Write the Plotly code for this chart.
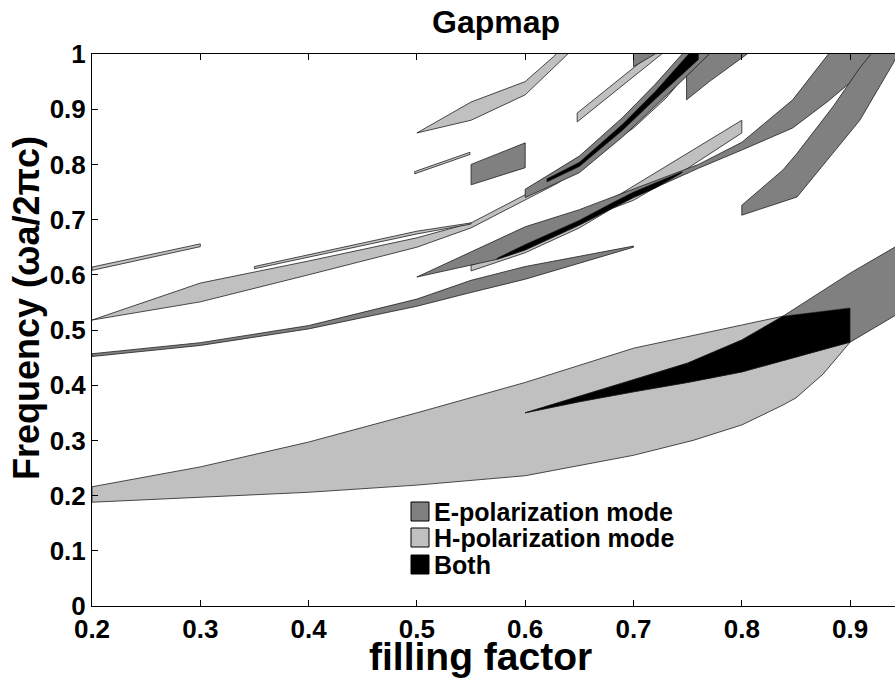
import plotly.graph_objects as go

# ---- gap bands: filling factor vs normalised frequency (omega a / 2 pi c) ----
# each band is given by its filling-factor samples and lower / upper gap edges

# H-polarization gaps
h_low_x = [0.2, 0.3, 0.4, 0.5, 0.6, 0.7, 0.755, 0.8, 0.838, 0.85, 0.875, 0.9]
h_low_lo = [0.188, 0.197, 0.206, 0.219, 0.236, 0.273, 0.30, 0.328, 0.364, 0.377, 0.42, 0.478]
h_low_hi = [0.216, 0.252, 0.297, 0.35, 0.405, 0.467, 0.49, 0.509, 0.525, 0.528, 0.534, 0.54]

h_a_x = [0.2, 0.3, 0.4, 0.5, 0.55, 0.6, 0.63, 0.66, 0.7, 0.73, 0.76]
h_a_lo = [0.518, 0.551, 0.60, 0.65, 0.685, 0.736, 0.766, 0.81, 0.866, 0.92, 0.99]
h_a_hi = [0.518, 0.585, 0.625, 0.667, 0.694, 0.745, 0.775, 0.82, 0.88, 0.94, 1.01]

h_s1_x = [0.2, 0.3]
h_s1_lo = [0.608, 0.651]
h_s1_hi = [0.614, 0.656]

h_s2_x = [0.35, 0.4, 0.5, 0.55]
h_s2_lo = [0.611, 0.632, 0.674, 0.692]
h_s2_hi = [0.615, 0.637, 0.679, 0.694]

h_s4_x = [0.498, 0.549]
h_s4_lo = [0.783, 0.818]
h_s4_hi = [0.787, 0.822]

h_top1_x = [0.5, 0.55, 0.6, 0.626, 0.65]
h_top1_lo = [0.857, 0.88, 0.926, 0.975, 1.02]
h_top1_hi = [0.857, 0.913, 0.95, 0.995, 1.04]

h_top2_x = [0.648, 0.7, 0.74]
h_top2_lo = [0.877, 0.959, 1.022]
h_top2_hi = [0.893, 0.975, 1.038]

h_mid_x = [0.55, 0.6, 0.65, 0.68, 0.7, 0.743, 0.8]
h_mid_lo = [0.607, 0.64, 0.685, 0.72, 0.735, 0.784, 0.857]
h_mid_hi = [0.617, 0.655, 0.70, 0.737, 0.761, 0.812, 0.88]

# E-polarization gaps
e_low_x = [0.6, 0.65, 0.7, 0.75, 0.8, 0.838, 0.866, 0.9, 0.95]
e_low_lo = [0.35, 0.37, 0.388, 0.405, 0.424, 0.445, 0.46, 0.478, 0.536]
e_low_hi = [0.35, 0.38, 0.41, 0.44, 0.482, 0.525, 0.56, 0.603, 0.66]

e_s3_x = [0.2, 0.3, 0.4, 0.5, 0.55, 0.6, 0.7]
e_s3_lo = [0.452, 0.472, 0.502, 0.543, 0.568, 0.592, 0.65]
e_s3_hi = [0.457, 0.477, 0.508, 0.556, 0.59, 0.615, 0.652]

e_mid_x = [0.5, 0.574, 0.6, 0.65, 0.7, 0.76, 0.8, 0.847, 0.88, 0.906, 0.93]
e_mid_lo = [0.596, 0.628, 0.645, 0.69, 0.74, 0.793, 0.826, 0.866, 0.915, 0.958, 1.0]
e_mid_hi = [0.596, 0.663, 0.687, 0.718, 0.755, 0.80, 0.84, 0.917, 1.0, 1.05, 1.09]

e_rect_x = [0.55, 0.6]
e_rect_lo = [0.763, 0.794]
e_rect_hi = [0.80, 0.839]

e_streak_x = [0.6, 0.65, 0.69, 0.72, 0.76, 0.78]
e_streak_lo = [0.74, 0.785, 0.85, 0.905, 0.98, 1.02]
e_streak_hi = [0.755, 0.815, 0.885, 0.945, 1.033, 1.06]

e_tiny_x = [0.7, 0.72]
e_tiny_lo = [0.977, 1.0]
e_tiny_hi = [1.01, 1.03]

e_top_x = [0.749, 0.77, 0.805]
e_top_lo = [0.917, 0.95, 1.0]
e_top_hi = [0.96, 1.0, 1.05]

e_right_x = [0.8, 0.838, 0.851, 0.884, 0.909, 0.94, 0.95]
e_right_lo = [0.708, 0.733, 0.741, 0.82, 0.88, 0.984, 1.02]
e_right_hi = [0.726, 0.79, 0.82, 0.904, 0.975, 1.05, 1.08]

# complete gaps (both polarizations)
both_low_x = [0.6, 0.65, 0.7, 0.75, 0.8, 0.838, 0.866, 0.9]
both_low_lo = [0.35, 0.37, 0.388, 0.405, 0.424, 0.445, 0.46, 0.478]
both_low_hi = [0.35, 0.38, 0.41, 0.44, 0.482, 0.525, 0.532, 0.54]

both_mid_x = [0.574, 0.6, 0.65, 0.68, 0.7, 0.72, 0.745]
both_mid_lo = [0.628, 0.645, 0.69, 0.72, 0.74, 0.757, 0.785]
both_mid_hi = [0.630, 0.655, 0.699, 0.730, 0.750, 0.766, 0.787]

both_streak_x = [0.62, 0.65, 0.69, 0.72, 0.76]
both_streak_lo = [0.768, 0.796, 0.862, 0.918, 0.99]
both_streak_hi = [0.774, 0.804, 0.873, 0.932, 1.02]

x_ticks = [0.2, 0.3, 0.4, 0.5, 0.6, 0.7, 0.8, 0.9]
y_ticks = [0, 0.1, 0.2, 0.3, 0.4, 0.5, 0.6, 0.7, 0.8, 0.9, 1]

legend_labels = ["E-polarization mode", "H-polarization mode", "Both"]

E_COL = "#808080"
H_COL = "#c0c0c0"
B_COL = "#000000"
EDGE = "#202020"
FONT = "Liberation Sans, Arial, sans-serif"

h_bands = [
    (h_low_x, h_low_lo, h_low_hi),
    (h_a_x, h_a_lo, h_a_hi),
    (h_s1_x, h_s1_lo, h_s1_hi),
    (h_s2_x, h_s2_lo, h_s2_hi),
    (h_s4_x, h_s4_lo, h_s4_hi),
    (h_top1_x, h_top1_lo, h_top1_hi),
    (h_top2_x, h_top2_lo, h_top2_hi),
    (h_mid_x, h_mid_lo, h_mid_hi),
]
e_bands = [
    (e_low_x, e_low_lo, e_low_hi),
    (e_s3_x, e_s3_lo, e_s3_hi),
    (e_mid_x, e_mid_lo, e_mid_hi),
    (e_rect_x, e_rect_lo, e_rect_hi),
    (e_streak_x, e_streak_lo, e_streak_hi),
    (e_tiny_x, e_tiny_lo, e_tiny_hi),
    (e_top_x, e_top_lo, e_top_hi),
    (e_right_x, e_right_lo, e_right_hi),
]
both_bands = [
    (both_low_x, both_low_lo, both_low_hi),
    (both_mid_x, both_mid_lo, both_mid_hi),
    (both_streak_x, both_streak_lo, both_streak_hi),
]


def band_trace(x, lo, hi, color, edge_w=0.8):
    """Closed polygon: lower edge left->right, upper edge right->left."""
    px = list(x) + list(x)[::-1] + [x[0]]
    py = list(lo) + list(hi)[::-1] + [lo[0]]
    return go.Scatter(
        x=px, y=py, mode="lines", fill="toself", fillcolor=color,
        line=dict(color=EDGE, width=edge_w), hoverinfo="skip", showlegend=False,
    )


fig = go.Figure()
for b in h_bands:
    fig.add_trace(band_trace(*b, H_COL))
for b in e_bands:
    fig.add_trace(band_trace(*b, E_COL))
for b in both_bands:
    fig.add_trace(band_trace(*b, B_COL, edge_w=0.5))

W, H = 895, 679
L, R, T, B = 92, 0, 54, 73
x_max = 0.2 + (W - L - R) / 1083.0

axis_font = dict(family=FONT, size=26, color="black")

fig.update_layout(
    width=W, height=H,
    margin=dict(l=L, r=R, t=T, b=B, pad=0),
    paper_bgcolor="white", plot_bgcolor="white",
    showlegend=False,
    xaxis=dict(
        range=[0.2, x_max], tickvals=x_ticks, ticktext=[f"<b>{v:g}</b>" for v in x_ticks],
        ticks="inside", ticklen=6, tickwidth=1, tickcolor="black",
        showline=True, linecolor="black", linewidth=1, mirror="ticks",
        showgrid=False, zeroline=False, tickfont=axis_font,
    ),
    yaxis=dict(
        range=[0, 1], tickvals=y_ticks, ticktext=[f"<b>{v:g}</b>" for v in y_ticks],
        ticks="inside", ticklen=6, tickwidth=1, tickcolor="black",
        showline=True, linecolor="black", linewidth=1, mirror=False,
        showgrid=False, zeroline=False, tickfont=axis_font,
    ),
)


def px_to_paper(px, py):
    return (px - L) / (W - L - R), (H - B - py) / (H - T - B)


shapes = []
annotations = []
tx, ty = px_to_paper(496, 22)
annotations.append(dict(text="<b>Gapmap</b>", x=tx, y=ty, xref="paper", yref="paper",
                        showarrow=False, xanchor="center", yanchor="middle",
                        font=dict(family=FONT, size=32, color="black")))
tx, ty = px_to_paper(480, 656)
annotations.append(dict(text="<b>filling factor</b>", x=tx, y=ty, xref="paper", yref="paper",
                        showarrow=False, xanchor="center", yanchor="middle",
                        font=dict(family=FONT, size=39, color="black")))
tx, ty = px_to_paper(26, 308)
annotations.append(dict(text="<b>Frequency (\u03c9a/2\u03c0c)</b>", x=tx, y=ty,
                        xref="paper", yref="paper", textangle=-90,
                        showarrow=False, xanchor="center", yanchor="middle",
                        font=dict(family=FONT, size=36, color="black")))

# legend block
leg_cols = [E_COL, H_COL, B_COL]
row_top = [502, 528, 555]
for lab, col, yt in zip(legend_labels, leg_cols, row_top):
    x0, y0 = px_to_paper(411, yt + 19)
    x1, y1 = px_to_paper(429, yt)
    shapes.append(dict(type="rect", xref="paper", yref="paper", x0=x0, y0=y0, x1=x1, y1=y1,
                       fillcolor=col, line=dict(color="black", width=1)))
    ax, ay = px_to_paper(432, yt + 10)
    annotations.append(dict(text=f"<b>{lab}</b>", x=ax, y=ay, xref="paper", yref="paper",
                            showarrow=False, xanchor="left", yanchor="middle",
                            font=dict(family=FONT, size=25, color="black")))

fig.update_layout(annotations=annotations, shapes=shapes)

fig.write_html("out.html")
